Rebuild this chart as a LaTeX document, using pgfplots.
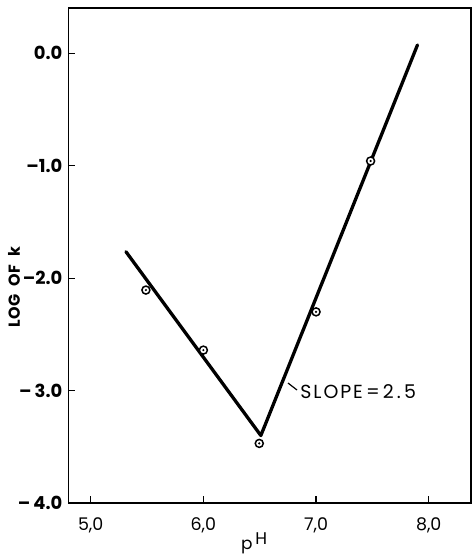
\documentclass[border=0pt]{standalone}
\usepackage{fontspec}
\setmainfont{Poppins}
\usepackage{pgfplots}
\pgfplotsset{compat=1.18}
\pgfdeclareplotmark{cdot}{%
  \pgfpathcircle{\pgfpoint{0pt}{0pt}}{4bp}%
  \pgfsetfillcolor{white}\pgfsetlinewidth{1.5bp}%
  \pgfusepathqfillstroke
  \pgfpathcircle{\pgfpoint{0pt}{0pt}}{1.2bp}%
  \pgfsetfillcolor{black}\pgfusepathqfill}
\begin{document}
\begin{tikzpicture}
\useasboundingbox (-68.5bp,-51bp) rectangle (403.5bp,503bp);
\begin{axis}[
  at={(0,0)}, anchor=south west,
  scale only axis, width=402.5bp, height=495bp,
  xmin=4.803, xmax=8.375, ymin=-4.0, ymax=0.403,
  axis line style={line width=1.4bp},
  xtick={5,6,7,8}, xticklabels={5{,}0,6{,}0,7{,}0,8{,}0},
  ytick={-4,-3,-2,-1,0}, yticklabels={\textendash\,4.0,\textendash\,3.0,\textendash2.0,\textendash1.0,0.0},
  xtick pos=bottom, ytick pos=left, tick align=inside,
  major tick length=6.5bp, tick style={line width=1.2bp, black},
  xticklabel style={anchor=center, yshift=-22bp, font=\fontsize{17.5}{17.5}\selectfont},
  yticklabel style={anchor=east, inner sep=0pt, xshift=-6bp, font=\bfseries\fontsize{18}{18}\selectfont},
  xlabel={p\,\raisebox{5bp}{H}},
  xlabel style={at={(axis description cs:0.461,0)}, anchor=center, yshift=-40bp, font=\fontsize{17}{17}\selectfont},
  ylabel={LOG\ \ OF\ \ k},
  ylabel style={at={(axis description cs:-0.1354,0.436)}, anchor=center, font=\bfseries\addfontfeatures{LetterSpace=3}\fontsize{16}{16}\selectfont},
  clip=false,
]
\addplot[line width=3.3bp, black, line cap=round, line join=round] coordinates {
  (5.313,-1.765) (6.51,-3.40) (7.90,0.074)};
\addplot[line width=1.2bp, black] coordinates {(6.751,-2.933) (6.831,-2.995)};
\addplot[only marks, mark=cdot] coordinates {
  (5.49,-2.106) (6.0,-2.64) (6.496,-3.47) (7.0,-2.30) (7.484,-0.958)};
\node[anchor=west, inner sep=0pt, font=\addfontfeatures{LetterSpace=10}\fontsize{19}{19}\selectfont] at (axis cs:6.86,-3.005) {SLOPE\,=\,2\,.\,5};
\end{axis}
\end{tikzpicture}
\end{document}
